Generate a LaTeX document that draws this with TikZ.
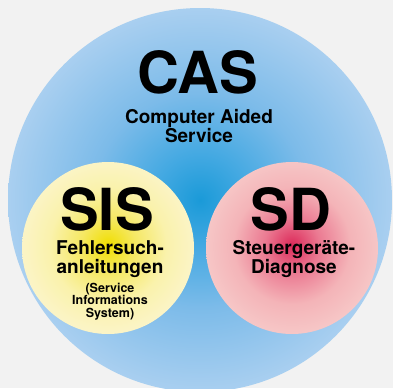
\documentclass[tikz,border=0pt]{standalone}
\usepackage{fontspec}
\setmainfont{TeX Gyre Heros}
\usetikzlibrary{shapes}

\definecolor{bggray}{HTML}{F2F2F2}
\definecolor{casdark}{HTML}{1A9AD8}
\definecolor{casmid}{HTML}{44A9E2}
\definecolor{caslight}{HTML}{7CBBE9}
\definecolor{casouter}{HTML}{A9CFF0}
\definecolor{sisdark}{HTML}{F0DE00}
\definecolor{sismid}{HTML}{F5E864}
\definecolor{sislight}{HTML}{FAF2AC}
\definecolor{sisouter}{HTML}{FBF4C6}
\definecolor{sddark}{HTML}{DC2A5A}
\definecolor{sdmid}{HTML}{EB7A92}
\definecolor{sdlight}{HTML}{F4B4B8}
\definecolor{sdouter}{HTML}{F6C6C6}

\pgfdeclareradialshading{casblue}{\pgfpoint{0bp}{0bp}}{color(0bp)=(casdark);color(6bp)=(casmid);color(14bp)=(caslight);color(25bp)=(casouter);color(50bp)=(casouter)}
\pgfdeclareradialshading{sisyellow}{\pgfpoint{0bp}{1bp}}{color(0bp)=(sisdark);color(8bp)=(sismid);color(17bp)=(sislight);color(25bp)=(sisouter);color(50bp)=(sisouter)}
\pgfdeclareradialshading{sdred}{\pgfpoint{0bp}{1bp}}{color(0bp)=(sddark);color(8bp)=(sdmid);color(17bp)=(sdlight);color(25bp)=(sdouter);color(50bp)=(sdouter)}

\begin{document}
\begin{tikzpicture}[x=1pt,y=-1pt]
\tikzstyle{bubble}=[circle,inner sep=0pt,shade]
\tikzstyle{bigtitle}=[font=\bfseries\fontsize{58}{58}\selectfont,anchor=base,inner sep=0pt,text depth=0pt]
\tikzstyle{subtitle}=[font=\bfseries\fontsize{19}{19}\selectfont,align=center,anchor=base,inner sep=0pt]
\tikzstyle{smalltitle}=[font=\bfseries\fontsize{12.5}{12.5}\selectfont,align=center,anchor=base,inner sep=0pt]
\fill[bggray] (0,0) rectangle (393,388);
\clip (0,0) rectangle (393,388);
\node[bubble,minimum size=384pt,shading=casblue] (cas) at (200,200) {};
\node[bubble,minimum size=172pt,shading=sisyellow] (sis) at (108,248) {};
\node[bubble,minimum size=172pt,shading=sdred] (sd) at (292,248) {};
% base = letzte Zeile
\node[bigtitle] (cas_titel) at (198,93) {CAS};
\node[subtitle] (cas_text) at (199,142) {Computer Aided\\Service};
\node[bigtitle] (sis_titel) at (107,230) {SIS};
\node[subtitle] (sis_text) at (110,273) {Fehlersuch-\\anleitungen};
\node[smalltitle] (sis_klammer) at (110,317) {(Service\\Informations\\System)};
\node[bigtitle] (sd_titel) at (291,230) {SD};
\node[subtitle] (sd_text) at (294,273) {Steuergeräte-\\Diagnose};
\end{tikzpicture}
\end{document}
